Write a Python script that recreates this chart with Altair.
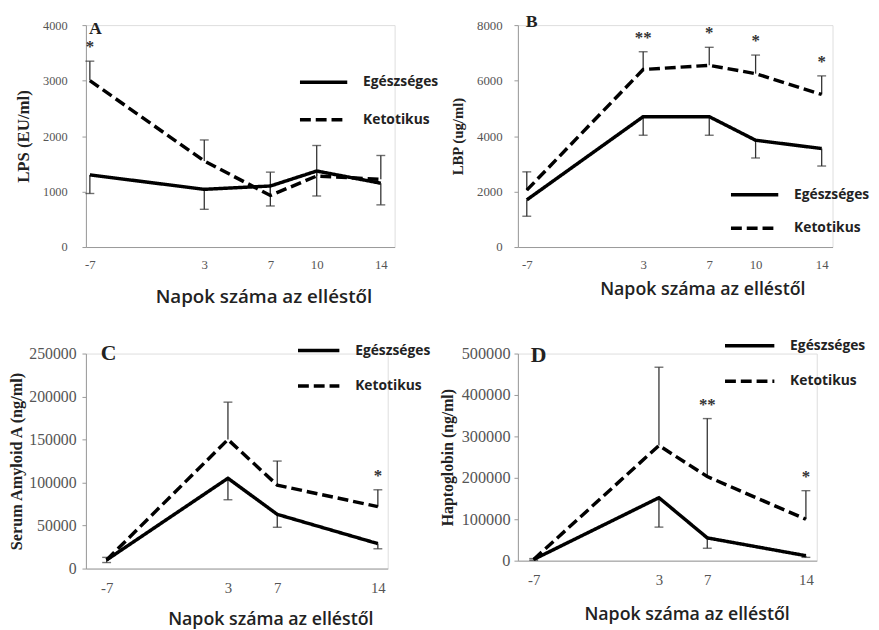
import altair as alt
import pandas as pd

GROUPS = ["Egészséges", "Ketotikus"]
XTITLE = "Napok száma az elléstől"

days_ab = [-7, 3, 7, 10, 14]
days_cd = [-7, 3, 7, 14]

# Panel A - LPS (EU/ml)
lps_egeszseges = [1300, 1040, 1100, 1370, 1150]
lps_egeszseges_sd = [335, 360, 360, 450, 390]
lps_ketotikus = [3000, 1550, 930, 1280, 1220]
lps_ketotikus_sd = [350, 380, 420, 550, 430]
lps_sig = ["*", "", "", "", ""]

# Panel B - LBP (ug/ml)
lbp_egeszseges = [1700, 4700, 4700, 3850, 3550]
lbp_egeszseges_sd = [590, 670, 670, 640, 630]
lbp_ketotikus = [2050, 6400, 6550, 6250, 5500]
lbp_ketotikus_sd = [660, 640, 650, 670, 670]
lbp_sig = ["", "**", "*", "*", "*"]

# Panel C - Serum Amyloid A (ng/ml)
saa_egeszseges = [10000, 105000, 63000, 29000]
saa_egeszseges_sd = [3000, 25000, 15000, 6000]
saa_ketotikus = [10000, 150000, 97000, 72000]
saa_ketotikus_sd = [3000, 43500, 28000, 19600]
saa_sig = ["", "", "", "*"]

# Panel D - Haptoglobin (ng/ml)
hp_egeszseges = [3000, 152000, 55000, 12000]
hp_egeszseges_sd = [2000, 71000, 25000, 4000]
hp_ketotikus = [3000, 278000, 203000, 100000]
hp_ketotikus_sd = [2000, 189000, 140000, 69000]
hp_sig = ["", "", "**", "*"]


def frame(days, h, hsd, k, ksd, sig):
    rows = []
    for i, d in enumerate(days):
        rows.append(dict(day=d, group=GROUPS[0], value=h[i], end=h[i] - hsd[i], sig=""))
        rows.append(dict(day=d, group=GROUPS[1], value=k[i], end=k[i] + ksd[i], sig=sig[i]))
    return pd.DataFrame(rows)


SERIF = "Liberation Serif"
SANS = "Open Sans"


def panel(df, letter, ytitle, ymax, ystep, width, height, xdomain, xrange, xticks,
          legx, legy, sym, rowpad, xt_size, xt_x, xt_y, lab_size, lab_pad, yt_size, yt_pad,
          xlab_size, let_size, let_x, let_y):
    xaxis = alt.Axis(values=xticks, title=XTITLE, titleFont=SANS, titleFontSize=xt_size,
                     titleFontWeight=600, titleColor="#222", titleX=xt_x, titleY=xt_y,
                     titleBaseline="middle", titleAlign="center",
                     labelFont=SERIF, labelFontSize=xlab_size, labelColor="#555",
                     labelExpr="'' + datum.value",
                     labelPadding=12, ticks=False, domainColor="#999", grid=False)
    yaxis = alt.Axis(values=list(range(0, ymax + 1, ystep)), format="d", title=ytitle,
                     titleFont=SERIF, titleFontSize=yt_size, titleFontWeight="bold",
                     titleColor="#222", titlePadding=yt_pad,
                     labelFont=SERIF, labelFontSize=lab_size, labelColor="#555",
                     labelPadding=lab_pad, tickSize=4, tickColor="#999",
                     domainColor="#999", grid=False)
    xs = alt.Scale(domain=xdomain, range=xrange)
    ys = alt.Scale(domain=[0, ymax])

    def X():
        return alt.X("day:Q", scale=xs, axis=xaxis)

    def Y(f):
        return alt.Y(f + ":Q", scale=ys, axis=yaxis)

    base = alt.Chart(df)
    bars = base.mark_rule(color="#333", strokeWidth=1.3).encode(
        x=X(), y=Y("value"), y2="end:Q")
    caps = base.mark_tick(color="#333", orient="horizontal", size=9, thickness=1.4).encode(
        x=X(), y=Y("end"))
    lines = base.mark_line(color="black", strokeWidth=3.5).encode(
        x=X(), y=Y("value"),
        strokeDash=alt.StrokeDash(
            "group:N",
            scale=alt.Scale(domain=GROUPS, range=[[1, 0], [11, 5]]),
            legend=alt.Legend(orient="none", legendX=legx, legendY=legy, title=None,
                              symbolType="stroke", symbolSize=sym, symbolStrokeWidth=3.5,
                              symbolStrokeColor="black", labelFont=SANS,
                              labelFontWeight="bold", labelFontSize=14,
                              labelColor="#222", labelOffset=14, rowPadding=rowpad,
                              padding=0)))
    stars = base.transform_filter("datum.sig != ''").mark_text(
        font=SERIF, fontSize=17, fontWeight="bold", baseline="middle", dy=-14,
        color="#333").encode(x=X(), y=Y("end"), text="sig:N")
    label = alt.Chart(pd.DataFrame({"panel": [letter]})).mark_text(
        font=SERIF, fontSize=let_size, fontWeight="bold", color="#222",
        align="left", baseline="middle").encode(
        x=alt.value(let_x), y=alt.value(let_y), text="panel:N")
    return alt.layer(bars, caps, lines, stars, label).properties(width=width, height=height)


pa = panel(frame(days_ab, lps_egeszseges, lps_egeszseges_sd, lps_ketotikus, lps_ketotikus_sd, lps_sig),
           "A", "LPS (EU/ml)", 4000, 1000, 313, 225,
           [-8, -7, 3, 7, 10, 14, 15], [0, 4, 120, 187, 234, 299, 313], days_ab,
           215, 32, 2300, 5, 19, 180, 50, 12.5, 15, 17, 10, 13, 18, 3, 4)
pb = panel(frame(days_ab, lbp_egeszseges, lbp_egeszseges_sd, lbp_ketotikus, lbp_ketotikus_sd, lbp_sig),
           "B", "LBP (ug/ml)", 8000, 2000, 319, 225,
           [-8, -7, 3, 7, 10, 14, 15], [0, 9, 127, 194, 241, 308, 319], days_ab,
           214, 146, 2300, 1, 18, 187, 43, 13, 12, 15, 11, 13, 18, 8, -3)
pc = panel(frame(days_cd, saa_egeszseges, saa_egeszseges_sd, saa_ketotikus, saa_ketotikus_sd, saa_sig),
           "C", "Serum Amyloid A (ng/ml)", 250000, 50000, 306, 218,
           [-8, -7, 3, 7, 14, 15], [0, 21, 144, 194, 296, 306], days_cd,
           213, -26, 1760, 6, 18, 187, 52, 16, 6, 16.5, 4, 15, 22, 15, 0)
pd_ = panel(frame(days_cd, hp_egeszseges, hp_egeszseges_sd, hp_ketotikus, hp_ketotikus_sd, hp_sig),
            "D", "Haptoglobin (ng/ml)", 500000, 100000, 303, 210,
            [-8, -7, 3, 7, 14, 15], [0, 16, 143, 192, 292, 303], days_cd,
            208, -35, 2500, 2, 18, 171, 55, 16.5, 4, 16, 6, 15, 22, 13, 2)

chart = alt.concat(
    pa, pb, pc, pd_, columns=2, spacing={"row": 108, "column": 125}, bounds="flush"
).resolve_scale(strokeDash="independent").resolve_legend(
    strokeDash="independent").properties(
    padding={"left": 0, "top": 0, "right": 0, "bottom": 0}).configure_view(
    stroke=None).configure(background="white")

chart.save("out.html", embed_options={"renderer": "svg", "actions": False})
